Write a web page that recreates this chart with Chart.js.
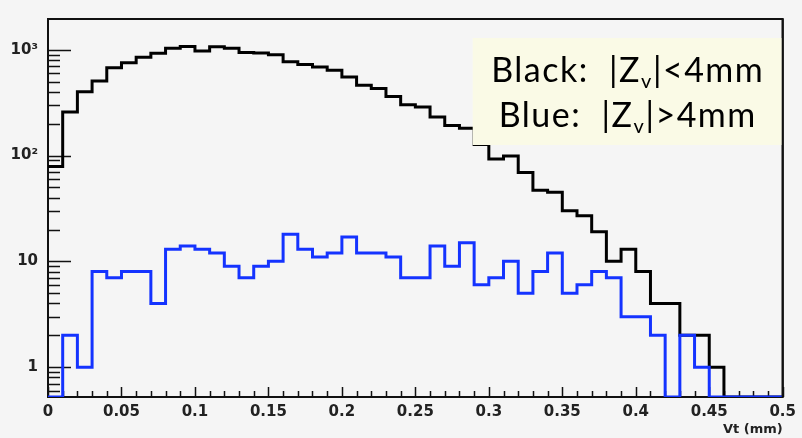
<!DOCTYPE html>
<html>
<head>
<meta charset="utf-8">
<script src="https://cdn.jsdelivr.net/npm/chart.js@4.4.1/dist/chart.umd.min.js"></script>
<style>
  html, body { margin: 0; padding: 0; background: #f5f5f5; }
  canvas { display: block; }
</style>
</head>
<body>
<canvas id="myChart" width="802" height="438"></canvas>
<script>
// lower edge of every bin (bin width 0.01 mm)
const binStarts = [0, 0.01, 0.02, 0.03, 0.04, 0.05, 0.06, 0.07, 0.08, 0.09,
  0.1, 0.11, 0.12, 0.13, 0.14, 0.15, 0.16, 0.17, 0.18, 0.19,
  0.2, 0.21, 0.22, 0.23, 0.24, 0.25, 0.26, 0.27, 0.28, 0.29,
  0.3, 0.31, 0.32, 0.33, 0.34, 0.35, 0.36, 0.37, 0.38, 0.39,
  0.4, 0.41, 0.42, 0.43, 0.44, 0.45, 0.46, 0.47, 0.48, 0.49];
const xEnd = 0.5;

// |Zv| < 4mm
const blackCounts = [79, 258, 402, 508, 676, 752, 848, 925, 1036, 1073,
  973, 1066, 1036, 944, 931, 899, 769, 726, 686, 639,
  553, 463, 431, 361, 302, 288, 232, 192, 181, 127,
  93, 99, 69, 47, 45, 30, 27, 19, 10, 13,
  8, 4, 4, 2, 2, 1, 0, 0, 0, 0];

// |Zv| > 4mm
const blueCounts = [0, 2, 1, 8, 7, 8, 8, 4, 13, 14,
  13, 12, 9, 7, 9, 10, 18, 13, 11, 12,
  17, 12, 12, 11, 7, 7, 14, 9, 15, 6,
  7, 10, 5, 8, 12, 5, 6, 8, 7, 3,
  3, 2, 0, 2, 1, 0, 0, 0, 0, 0];

const xTickValues = [0, 0.05, 0.1, 0.15, 0.2, 0.25, 0.3, 0.35, 0.4, 0.45, 0.5];
const xTickLabels = ['0', '0.05', '0.1', '0.15', '0.2', '0.25', '0.3', '0.35', '0.4', '0.45', '0.5'];
const yTickValues = [1, 10, 100, 1000];
const yTickLabels = ['1', '10', '10\u00B2', '10\u00B3'];
const yMin = 0.522;
const yMax = 1954;

const legendLines = [
  ['Black:  |Z', 'v', '|<4mm'],
  ['Blue:  |Z', 'v', '|>4mm']
];

// histogram -> step points; empty bins sit on the axis floor like ROOT draws them
function histPoints(counts) {
  let pts = binStarts.map((x, i) => ({ x: x, y: counts[i] > 0 ? counts[i] : yMin }));
  pts.push({ x: xEnd, y: pts[pts.length - 1].y });
  return pts;
}

const rootStyle = {
  id: 'rootStyle',
  beforeDraw(chart) {
    const ctx = chart.ctx;
    ctx.save();
    ctx.fillStyle = '#f5f5f5';
    ctx.fillRect(0, 0, chart.width, chart.height);
    ctx.restore();
  },
  beforeDatasetsDraw(chart) {
    const { ctx, chartArea: a, scales: { x, y } } = chart;
    ctx.save();
    ctx.strokeStyle = '#111';
    ctx.lineWidth = 2;
    ctx.strokeRect(a.left, a.top, a.right - a.left, a.bottom - a.top);

    // inward ticks, ROOT style
    ctx.lineWidth = 1.5;
    ctx.beginPath();
    for (let i = 0; i <= 50; i++) {
      const px = Math.round(x.getPixelForValue(i * 0.01)) + 0.5;
      const len = i % 5 === 0 ? 10 : 6;
      ctx.moveTo(px, a.bottom);
      ctx.lineTo(px, a.bottom - len);
    }
    for (let e = -1; e <= 3; e++) {
      for (let m = 1; m <= 9; m++) {
        const v = m * Math.pow(10, e);
        if (v < y.min || v > y.max) continue;
        const py = Math.round(y.getPixelForValue(v)) + 0.5;
        const len = m === 1 ? 23 : 12;
        ctx.moveTo(a.left, py);
        ctx.lineTo(a.left + len, py);
      }
    }
    ctx.stroke();
    ctx.restore();
  },
  afterDraw(chart) {
    const { ctx, chartArea: a } = chart;
    ctx.save();
    // legend box
    const bx = a.right - 310, by = a.top + 19, bw = 310, bh = 107;
    ctx.fillStyle = '#fafae6';
    ctx.fillRect(bx, by, bw, bh);
    const mainFont = '34px Lato';
    const subFont = '20px Lato';
    ctx.fillStyle = '#000';
    ctx.textBaseline = 'alphabetic';
    ctx.textAlign = 'left';
    ctx.letterSpacing = '1.5px';
    legendLines.forEach((parts, li) => {
      ctx.font = mainFont;
      const w0 = ctx.measureText(parts[0]).width;
      const w2 = ctx.measureText(parts[2]).width;
      ctx.font = subFont;
      const w1 = ctx.measureText(parts[1]).width;
      const total = w0 + w1 + w2;
      let tx = bx + bw / 2 - total / 2;
      const base = by + 44 + li * 45;
      ctx.font = mainFont;
      ctx.fillText(parts[0], tx, base);
      tx += w0;
      ctx.font = subFont;
      ctx.fillText(parts[1], tx, base + 6);
      tx += w1;
      ctx.font = mainFont;
      ctx.fillText(parts[2], tx, base);
    });
    // right frame edge over the box
    ctx.strokeStyle = '#111';
    ctx.lineWidth = 2;
    ctx.beginPath();
    ctx.moveTo(a.right, a.top);
    ctx.lineTo(a.right, a.bottom);
    ctx.stroke();
    ctx.restore();
  }
};

const ctx = document.getElementById('myChart').getContext('2d');
const chart = new Chart(ctx, {
  type: 'line',
  data: {
    datasets: [{
      label: '|Zv|>4mm',
      data: histPoints(blueCounts),
      borderColor: '#1433ff',
      borderWidth: 3,
      stepped: 'before',
      pointRadius: 0,
      fill: false
    }, {
      label: '|Zv|<4mm',
      data: histPoints(blackCounts),
      borderColor: '#000000',
      borderWidth: 3,
      stepped: 'before',
      pointRadius: 0,
      fill: false
    }]
  },
  options: {
    responsive: false,
    animation: false,
    layout: { padding: { top: 13, right: 15, left: 0, bottom: 0 } },
    plugins: {
      legend: { display: false },
      tooltip: { enabled: false }
    },
    scales: {
      x: {
        type: 'linear',
        min: 0,
        max: 0.5,
        grid: { display: false, drawTicks: false },
        border: { display: false },
        afterBuildTicks: (scale) => {
          scale.ticks = xTickValues.map(v => ({ value: v }));
        },
        afterFit: (scale) => { scale.height = 41; },
        ticks: {
          padding: 6,
          maxRotation: 0,
          autoSkip: false,
          color: '#222',
          font: { family: 'DejaVu Sans', weight: 'bold', size: 15 },
          callback: (value, index) => xTickLabels[index]
        },
        title: {
          display: true,
          text: 'Vt (mm)',
          align: 'end',
          color: '#222',
          font: { family: 'DejaVu Sans', weight: 'bold', size: 13 },
          padding: { top: 0, bottom: 1 }
        }
      },
      y: {
        type: 'logarithmic',
        min: yMin,
        max: yMax,
        grid: { display: false, drawTicks: false },
        border: { display: false },
        afterBuildTicks: (scale) => {
          scale.ticks = yTickValues.map(v => ({ value: v }));
        },
        afterFit: (scale) => { scale.width = 48; },
        ticks: {
          padding: 10,
          autoSkip: false,
          color: '#222',
          font: { family: 'DejaVu Sans', weight: 'bold', size: 15 },
          callback: (value, index) => yTickLabels[index]
        }
      }
    }
  },
  plugins: [rootStyle]
});
</script>
</body>
</html>
